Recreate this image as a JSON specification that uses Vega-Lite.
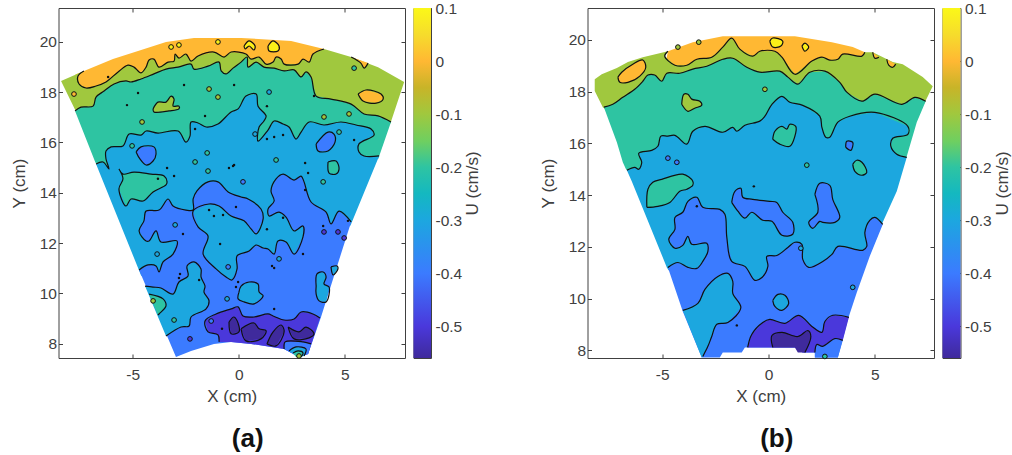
{"$schema":"https://vega.github.io/schema/vega-lite/v6.json",
"padding":{"left":9.5,"top":0,"right":0,"bottom":0},
"background":"white",
"config":{"view":{"stroke":"#404040","strokeWidth":1},"font":"Liberation Sans","axis":{"grid":false,"domain":false,"tickColor":"#404040","tickSize":-4,"labelColor":"#404040","titleColor":"#404040","labelFontSize":15.5,"titleFontSize":17,"titleFontWeight":"normal","labelPadding":6},"title":{"font":"Liberation Sans","fontSize":26,"fontWeight":"bold","color":"#111111"}},
"datasets":{
"a":[
{"r":"a0","u":0,"x":-7.30,"y":18.84},{"r":"a0","u":0,"x":-5.93,"y":19.31},{"r":"a0","u":0,"x":-4.75,"y":19.63},{"r":"a0","u":0,"x":-3.43,"y":19.99},{"r":"a0","u":0,"x":-2.11,"y":20.15},{"r":"a0","u":0,"x":0.11,"y":20.15},{"r":"a0","u":0,"x":2.47,"y":20.03},{"r":"a0","u":0,"x":4.02,"y":19.71},{"r":"a0","u":0,"x":3.9,"y":18.0},{"r":"a0","u":0,"x":-7.7,"y":18.0},{"r":"a0","u":0,"x":-7.7,"y":18.7},
{"r":"a1","u":-0.1,"c":1,"x":-7.30,"y":18.84},{"r":"a1","u":-0.1,"c":1,"x":-7.58,"y":18.64},{"r":"a1","u":-0.1,"c":1,"x":-7.53,"y":18.32},{"r":"a1","u":-0.1,"c":1,"x":-7.20,"y":18.16},{"r":"a1","u":-0.1,"c":1,"x":-6.73,"y":18.24},{"r":"a1","u":-0.1,"c":1,"x":-6.26,"y":18.40},{"r":"a1","u":-0.1,"c":1,"x":-5.69,"y":18.80},{"r":"a1","u":-0.1,"c":1,"x":-5.22,"y":19.07},{"r":"a1","u":-0.1,"c":1,"x":-4.94,"y":18.99},{"r":"a1","u":-0.1,"c":1,"x":-4.61,"y":18.76},{"r":"a1","u":-0.1,"c":1,"x":-4.37,"y":18.99},{"r":"a1","u":-0.1,"c":1,"x":-4.23,"y":19.27},{"r":"a1","u":-0.1,"c":1,"x":-4.00,"y":19.31},{"r":"a1","u":-0.1,"c":1,"x":-3.76,"y":18.99},{"r":"a1","u":-0.1,"c":1,"x":-3.33,"y":19.19},{"r":"a1","u":-0.1,"c":1,"x":-3.05,"y":19.23},{"r":"a1","u":-0.1,"c":1,"x":-3.00,"y":19.51},{"r":"a1","u":-0.1,"c":1,"x":-2.82,"y":19.35},{"r":"a1","u":-0.1,"c":1,"x":-2.49,"y":19.51},{"r":"a1","u":-0.1,"c":1,"x":-2.25,"y":19.23},{"r":"a1","u":-0.1,"c":1,"x":-1.92,"y":19.43},{"r":"a1","u":-0.1,"c":1,"x":-1.17,"y":19.59},{"r":"a1","u":-0.1,"c":1,"x":-0.69,"y":19.39},{"r":"a1","u":-0.1,"c":1,"x":-0.36,"y":19.59},{"r":"a1","u":-0.1,"c":1,"x":0.34,"y":19.51},{"r":"a1","u":-0.1,"c":1,"x":0.58,"y":19.31},{"r":"a1","u":-0.1,"c":1,"x":0.96,"y":19.39},{"r":"a1","u":-0.1,"c":1,"x":1.29,"y":19.11},{"r":"a1","u":-0.1,"c":1,"x":1.62,"y":19.19},{"r":"a1","u":-0.1,"c":1,"x":1.76,"y":19.39},{"r":"a1","u":-0.1,"c":1,"x":2.00,"y":19.31},{"r":"a1","u":-0.1,"c":1,"x":2.14,"y":19.11},{"r":"a1","u":-0.1,"c":1,"x":2.80,"y":19.11},{"r":"a1","u":-0.1,"c":1,"x":3.03,"y":19.31},{"r":"a1","u":-0.1,"c":1,"x":3.32,"y":19.19},{"r":"a1","u":-0.1,"c":1,"x":3.50,"y":19.51},{"r":"a1","u":-0.1,"c":1,"x":4.02,"y":19.71},{"r":"a1","u":-0.1,"x":5.30,"y":19.39},{"r":"a1","u":-0.1,"x":6.57,"y":18.99},{"r":"a1","u":-0.1,"x":7.80,"y":18.40},{"r":"a1","u":-0.1,"x":7.15,"y":16.75},{"r":"a1","u":-0.1,"x":-7.4,"y":16.75},{"r":"a1","u":-0.1,"x":-8.38,"y":18.44},
{"r":"a1b","u":0,"c":1,"x":5.30,"y":19.39},{"r":"a1b","u":0,"c":1,"x":5.76,"y":19.15},{"r":"a1b","u":0,"c":1,"x":5.91,"y":18.95},{"r":"a1b","u":0,"c":1,"x":6.10,"y":19.15},
{"r":"a2","u":-0.2,"c":1,"x":-7.72,"y":17.25},{"r":"a2","u":-0.2,"c":1,"x":-7.44,"y":17.40},{"r":"a2","u":-0.2,"c":1,"x":-6.87,"y":17.44},{"r":"a2","u":-0.2,"c":1,"x":-6.73,"y":17.80},{"r":"a2","u":-0.2,"c":1,"x":-6.35,"y":18.04},{"r":"a2","u":-0.2,"c":1,"x":-5.88,"y":18.32},{"r":"a2","u":-0.2,"c":1,"x":-5.32,"y":18.44},{"r":"a2","u":-0.2,"c":1,"x":-5.08,"y":18.40},{"r":"a2","u":-0.2,"c":1,"x":-4.61,"y":18.52},{"r":"a2","u":-0.2,"c":1,"x":-4.00,"y":18.72},{"r":"a2","u":-0.2,"c":1,"x":-3.43,"y":18.91},{"r":"a2","u":-0.2,"c":1,"x":-2.86,"y":18.99},{"r":"a2","u":-0.2,"c":1,"x":-2.25,"y":19.11},{"r":"a2","u":-0.2,"c":1,"x":-2.11,"y":18.91},{"r":"a2","u":-0.2,"c":1,"x":-1.45,"y":19.03},{"r":"a2","u":-0.2,"c":1,"x":-0.93,"y":19.19},{"r":"a2","u":-0.2,"c":1,"x":-0.83,"y":18.84},{"r":"a2","u":-0.2,"c":1,"x":-0.60,"y":18.72},{"r":"a2","u":-0.2,"c":1,"x":-0.27,"y":18.95},{"r":"a2","u":-0.2,"c":1,"x":0.11,"y":19.19},{"r":"a2","u":-0.2,"c":1,"x":0.39,"y":19.39},{"r":"a2","u":-0.2,"c":1,"x":0.44,"y":18.99},{"r":"a2","u":-0.2,"c":1,"x":0.82,"y":19.19},{"r":"a2","u":-0.2,"c":1,"x":1.19,"y":18.99},{"r":"a2","u":-0.2,"c":1,"x":1.67,"y":18.95},{"r":"a2","u":-0.2,"c":1,"x":2.14,"y":18.84},{"r":"a2","u":-0.2,"c":1,"x":2.61,"y":18.88},{"r":"a2","u":-0.2,"c":1,"x":2.94,"y":18.60},{"r":"a2","u":-0.2,"c":1,"x":3.17,"y":18.80},{"r":"a2","u":-0.2,"c":1,"x":3.41,"y":18.60},{"r":"a2","u":-0.2,"c":1,"x":3.65,"y":17.84},{"r":"a2","u":-0.2,"c":1,"x":4.35,"y":17.72},{"r":"a2","u":-0.2,"c":1,"x":5.30,"y":17.52},{"r":"a2","u":-0.2,"c":1,"x":5.91,"y":17.13},{"r":"a2","u":-0.2,"c":1,"x":6.57,"y":17.05},{"r":"a2","u":-0.2,"c":1,"x":7.18,"y":16.81},{"r":"a2","u":-0.2,"x":6.58,"y":15.35},{"r":"a2","u":-0.2,"x":-6.4,"y":14.9},{"r":"a2","u":-0.2,"x":-6.76,"y":15.2},
{"r":"a3","u":-0.3,"c":1,"x":-6.73,"y":15.14},{"r":"a3","u":-0.3,"c":1,"x":-6.40,"y":15.22},{"r":"a3","u":-0.3,"c":1,"x":-6.12,"y":14.94},{"r":"a3","u":-0.3,"c":1,"x":-6.26,"y":15.34},{"r":"a3","u":-0.3,"c":1,"x":-6.26,"y":15.66},{"r":"a3","u":-0.3,"c":1,"x":-6.02,"y":15.82},{"r":"a3","u":-0.3,"c":1,"x":-5.46,"y":15.86},{"r":"a3","u":-0.3,"c":1,"x":-5.17,"y":16.33},{"r":"a3","u":-0.3,"c":1,"x":-4.61,"y":16.29},{"r":"a3","u":-0.3,"c":1,"x":-4.37,"y":16.45},{"r":"a3","u":-0.3,"c":1,"x":-3.81,"y":16.37},{"r":"a3","u":-0.3,"c":1,"x":-2.86,"y":16.45},{"r":"a3","u":-0.3,"c":1,"x":-2.49,"y":16.01},{"r":"a3","u":-0.3,"c":1,"x":-2.30,"y":16.25},{"r":"a3","u":-0.3,"c":1,"x":-2.25,"y":16.81},{"r":"a3","u":-0.3,"c":1,"x":-1.92,"y":16.77},{"r":"a3","u":-0.3,"c":1,"x":-1.54,"y":16.61},{"r":"a3","u":-0.3,"c":1,"x":-0.98,"y":16.73},{"r":"a3","u":-0.3,"c":1,"x":-0.36,"y":17.21},{"r":"a3","u":-0.3,"c":1,"x":-0.03,"y":17.33},{"r":"a3","u":-0.3,"c":1,"x":0.34,"y":17.84},{"r":"a3","u":-0.3,"c":1,"x":0.82,"y":17.92},{"r":"a3","u":-0.3,"c":1,"x":0.91,"y":17.44},{"r":"a3","u":-0.3,"c":1,"x":1.29,"y":17.05},{"r":"a3","u":-0.3,"c":1,"x":1.19,"y":16.85},{"r":"a3","u":-0.3,"c":1,"x":0.96,"y":16.61},{"r":"a3","u":-0.3,"c":1,"x":0.91,"y":16.05},{"r":"a3","u":-0.3,"c":1,"x":1.38,"y":16.49},{"r":"a3","u":-0.3,"c":1,"x":1.67,"y":16.85},{"r":"a3","u":-0.3,"c":1,"x":2.09,"y":16.73},{"r":"a3","u":-0.3,"c":1,"x":2.37,"y":16.61},{"r":"a3","u":-0.3,"c":1,"x":2.70,"y":16.13},{"r":"a3","u":-0.3,"c":1,"x":2.94,"y":16.41},{"r":"a3","u":-0.3,"c":1,"x":3.32,"y":16.81},{"r":"a3","u":-0.3,"c":1,"x":4.02,"y":16.69},{"r":"a3","u":-0.3,"c":1,"x":4.82,"y":16.81},{"r":"a3","u":-0.3,"c":1,"x":5.53,"y":16.69},{"r":"a3","u":-0.3,"c":1,"x":6.24,"y":16.53},{"r":"a3","u":-0.3,"c":1,"x":6.38,"y":16.29},{"r":"a3","u":-0.3,"c":1,"x":5.67,"y":15.94},{"r":"a3","u":-0.3,"c":1,"x":5.67,"y":15.62},{"r":"a3","u":-0.3,"c":1,"x":5.91,"y":15.46},{"r":"a3","u":-0.3,"c":1,"x":6.62,"y":15.46},{"r":"a3","u":-0.3,"x":5.27,"y":12.7},{"r":"a3","u":-0.3,"x":1.0,"y":10.0},{"r":"a3","u":-0.3,"x":-4.6,"y":10.7},
{"r":"a4","u":-0.4,"c":1,"x":-4.70,"y":10.93},{"r":"a4","u":-0.4,"c":1,"x":-4.28,"y":11.13},{"r":"a4","u":-0.4,"c":1,"x":-3.90,"y":11.09},{"r":"a4","u":-0.4,"c":1,"x":-3.76,"y":10.85},{"r":"a4","u":-0.4,"c":1,"x":-3.57,"y":11.25},{"r":"a4","u":-0.4,"c":1,"x":-3.10,"y":11.56},{"r":"a4","u":-0.4,"c":1,"x":-2.91,"y":12.08},{"r":"a4","u":-0.4,"c":1,"x":-3.67,"y":12.04},{"r":"a4","u":-0.4,"c":1,"x":-3.90,"y":12.48},{"r":"a4","u":-0.4,"c":1,"x":-4.23,"y":12.08},{"r":"a4","u":-0.4,"c":1,"x":-4.37,"y":12.08},{"r":"a4","u":-0.4,"c":1,"x":-4.70,"y":12.48},{"r":"a4","u":-0.4,"c":1,"x":-4.47,"y":12.88},{"r":"a4","u":-0.4,"c":1,"x":-4.37,"y":13.27},{"r":"a4","u":-0.4,"c":1,"x":-3.76,"y":13.31},{"r":"a4","u":-0.4,"c":1,"x":-3.33,"y":13.75},{"r":"a4","u":-0.4,"c":1,"x":-3.10,"y":13.47},{"r":"a4","u":-0.4,"c":1,"x":-2.49,"y":13.31},{"r":"a4","u":-0.4,"c":1,"x":-2.15,"y":13.31},{"r":"a4","u":-0.4,"c":1,"x":-2.15,"y":13.75},{"r":"a4","u":-0.4,"c":1,"x":-1.97,"y":14.07},{"r":"a4","u":-0.4,"c":1,"x":-1.45,"y":14.43},{"r":"a4","u":-0.4,"c":1,"x":-0.98,"y":14.43},{"r":"a4","u":-0.4,"c":1,"x":-0.50,"y":14.03},{"r":"a4","u":-0.4,"c":1,"x":0.11,"y":13.83},{"r":"a4","u":-0.4,"c":1,"x":0.44,"y":13.75},{"r":"a4","u":-0.4,"c":1,"x":1.05,"y":13.35},{"r":"a4","u":-0.4,"c":1,"x":1.15,"y":12.96},{"r":"a4","u":-0.4,"c":1,"x":0.82,"y":12.36},{"r":"a4","u":-0.4,"c":1,"x":0.58,"y":12.56},{"r":"a4","u":-0.4,"c":1,"x":0.25,"y":12.88},{"r":"a4","u":-0.4,"c":1,"x":-0.36,"y":13.07},{"r":"a4","u":-0.4,"c":1,"x":-0.93,"y":13.47},{"r":"a4","u":-0.4,"c":1,"x":-1.40,"y":13.55},{"r":"a4","u":-0.4,"c":1,"x":-2.15,"y":13.27},{"r":"a4","u":-0.4,"c":1,"x":-1.92,"y":12.64},{"r":"a4","u":-0.4,"c":1,"x":-1.45,"y":12.28},{"r":"a4","u":-0.4,"c":1,"x":-1.68,"y":11.56},{"r":"a4","u":-0.4,"c":1,"x":-1.07,"y":10.97},{"r":"a4","u":-0.4,"c":1,"x":-0.60,"y":10.65},{"r":"a4","u":-0.4,"c":1,"x":-0.32,"y":10.53},{"r":"a4","u":-0.4,"c":1,"x":-0.08,"y":10.97},{"r":"a4","u":-0.4,"c":1,"x":-0.08,"y":11.49},{"r":"a4","u":-0.4,"c":1,"x":0.49,"y":11.68},{"r":"a4","u":-0.4,"c":1,"x":0.82,"y":11.92},{"r":"a4","u":-0.4,"c":1,"x":1.15,"y":11.80},{"r":"a4","u":-0.4,"c":1,"x":1.38,"y":11.76},{"r":"a4","u":-0.4,"c":1,"x":1.67,"y":11.56},{"r":"a4","u":-0.4,"c":1,"x":1.85,"y":12.08},{"r":"a4","u":-0.4,"c":1,"x":2.23,"y":12.04},{"r":"a4","u":-0.4,"c":1,"x":2.61,"y":11.56},{"r":"a4","u":-0.4,"c":1,"x":3.03,"y":12.24},{"r":"a4","u":-0.4,"c":1,"x":3.03,"y":12.68},{"r":"a4","u":-0.4,"c":1,"x":2.61,"y":12.48},{"r":"a4","u":-0.4,"c":1,"x":2.23,"y":13.03},{"r":"a4","u":-0.4,"c":1,"x":1.90,"y":13.23},{"r":"a4","u":-0.4,"c":1,"x":1.43,"y":13.07},{"r":"a4","u":-0.4,"c":1,"x":1.38,"y":13.35},{"r":"a4","u":-0.4,"c":1,"x":1.67,"y":13.67},{"r":"a4","u":-0.4,"c":1,"x":1.52,"y":14.07},{"r":"a4","u":-0.4,"c":1,"x":1.76,"y":14.55},{"r":"a4","u":-0.4,"c":1,"x":2.09,"y":14.74},{"r":"a4","u":-0.4,"c":1,"x":2.61,"y":14.50},{"r":"a4","u":-0.4,"c":1,"x":2.94,"y":14.66},{"r":"a4","u":-0.4,"c":1,"x":3.08,"y":14.43},{"r":"a4","u":-0.4,"c":1,"x":3.41,"y":13.63},{"r":"a4","u":-0.4,"c":1,"x":4.12,"y":13.23},{"r":"a4","u":-0.4,"c":1,"x":4.35,"y":12.76},{"r":"a4","u":-0.4,"c":1,"x":4.73,"y":13.27},{"r":"a4","u":-0.4,"c":1,"x":5.30,"y":12.84},{"r":"a4","u":-0.4,"x":3.88,"y":9.06},{"r":"a4","u":-0.4,"x":3.27,"y":7.59},{"r":"a4","u":-0.4,"x":2.84,"y":7.47},{"r":"a4","u":-0.4,"x":2.14,"y":7.79},{"r":"a4","u":-0.4,"x":0.58,"y":7.99},{"r":"a4","u":-0.4,"x":-0.36,"y":8.07},{"r":"a4","u":-0.4,"x":-1.17,"y":7.99},{"r":"a4","u":-0.4,"x":-2.25,"y":7.71},{"r":"a4","u":-0.4,"x":-2.96,"y":7.47},
{"r":"a5","u":-0.3,"c":1,"x":-4.42,"y":10.29},{"r":"a5","u":-0.3,"c":1,"x":-4.04,"y":10.25},{"r":"a5","u":-0.3,"c":1,"x":-3.67,"y":10.21},{"r":"a5","u":-0.3,"c":1,"x":-3.10,"y":9.97},{"r":"a5","u":-0.3,"c":1,"x":-2.82,"y":10.45},{"r":"a5","u":-0.3,"c":1,"x":-2.39,"y":10.69},{"r":"a5","u":-0.3,"c":1,"x":-2.44,"y":11.09},{"r":"a5","u":-0.3,"c":1,"x":-2.11,"y":11.25},{"r":"a5","u":-0.3,"c":1,"x":-1.78,"y":10.97},{"r":"a5","u":-0.3,"c":1,"x":-1.78,"y":10.65},{"r":"a5","u":-0.3,"c":1,"x":-1.59,"y":10.29},{"r":"a5","u":-0.3,"c":1,"x":-1.64,"y":10.05},{"r":"a5","u":-0.3,"c":1,"x":-1.40,"y":9.70},{"r":"a5","u":-0.3,"c":1,"x":-1.54,"y":9.38},{"r":"a5","u":-0.3,"c":1,"x":-2.25,"y":9.06},{"r":"a5","u":-0.3,"c":1,"x":-2.34,"y":8.70},{"r":"a5","u":-0.3,"c":1,"x":-2.72,"y":8.66},{"r":"a5","u":-0.3,"c":1,"x":-3.43,"y":8.30},
{"r":"a6","u":-0.2,"c":1,"x":-4.23,"y":9.97},{"r":"a6","u":-0.2,"c":1,"x":-3.57,"y":9.78},{"r":"a6","u":-0.2,"c":1,"x":-3.43,"y":9.50},{"r":"a6","u":-0.2,"c":1,"x":-3.76,"y":9.18},{"r":"a6","u":-0.2,"c":1,"x":-3.81,"y":9.14},
{"r":"a7","u":-0.5,"c":1,"x":-0.93,"y":8.07},{"r":"a7","u":-0.5,"c":1,"x":-0.98,"y":8.35},{"r":"a7","u":-0.5,"c":1,"x":-1.45,"y":8.47},{"r":"a7","u":-0.5,"c":1,"x":-1.59,"y":8.90},{"r":"a7","u":-0.5,"c":1,"x":-1.07,"y":9.18},{"r":"a7","u":-0.5,"c":1,"x":-0.36,"y":9.38},{"r":"a7","u":-0.5,"c":1,"x":-0.03,"y":9.46},{"r":"a7","u":-0.5,"c":1,"x":0.20,"y":9.10},{"r":"a7","u":-0.5,"c":1,"x":0.72,"y":9.06},{"r":"a7","u":-0.5,"c":1,"x":1.38,"y":9.18},{"r":"a7","u":-0.5,"c":1,"x":1.62,"y":9.10},{"r":"a7","u":-0.5,"c":1,"x":2.14,"y":8.94},{"r":"a7","u":-0.5,"c":1,"x":2.61,"y":8.98},{"r":"a7","u":-0.5,"c":1,"x":2.94,"y":9.26},{"r":"a7","u":-0.5,"c":1,"x":3.50,"y":9.18},{"r":"a7","u":-0.5,"c":1,"x":3.83,"y":9.02},{"r":"a7","u":-0.5,"x":3.27,"y":7.59},{"r":"a7","u":-0.5,"x":2.84,"y":7.47},{"r":"a7","u":-0.5,"x":2.14,"y":7.79},{"r":"a7","u":-0.5,"x":0.58,"y":7.99},{"r":"a7","u":-0.5,"x":-0.36,"y":8.07},
{"r":"a8","u":-0.4,"c":1,"x":2.14,"y":7.79},{"r":"a8","u":-0.4,"c":1,"x":2.19,"y":8.07},{"r":"a8","u":-0.4,"c":1,"x":3.03,"y":8.07},{"r":"a8","u":-0.4,"c":1,"x":3.41,"y":7.99},{"r":"a8","u":-0.4,"x":3.27,"y":7.59},{"r":"a8","u":-0.4,"x":2.84,"y":7.47},
{"r":"a9","u":-0.3,"c":1,"x":2.37,"y":7.71},{"r":"a9","u":-0.3,"c":1,"x":2.70,"y":7.87},{"r":"a9","u":-0.3,"c":1,"x":3.17,"y":7.79},{"r":"a9","u":-0.3,"c":1,"x":3.08,"y":7.51},{"r":"a9","u":-0.3,"x":2.84,"y":7.47},
{"r":"a10","u":-0.2,"c":1,"x":2.56,"y":7.63},{"r":"a10","u":-0.2,"c":1,"x":2.80,"y":7.71},{"r":"a10","u":-0.2,"c":1,"x":3.03,"y":7.63},{"r":"a10","u":-0.2,"c":1,"x":2.94,"y":7.47},{"r":"a10","u":-0.2,"x":2.70,"y":7.47},
{"r":"a11","u":-0.3,"c":1,"x":0.01,"y":10.05},{"r":"a11","u":-0.3,"c":1,"x":0.11,"y":10.29},{"r":"a11","u":-0.3,"c":1,"x":0.49,"y":10.45},{"r":"a11","u":-0.3,"c":1,"x":0.91,"y":10.37},{"r":"a11","u":-0.3,"c":1,"x":0.96,"y":10.05},{"r":"a11","u":-0.3,"c":1,"x":1.15,"y":9.90},{"r":"a11","u":-0.3,"c":1,"x":0.72,"y":9.58},{"r":"a11","u":-0.3,"c":1,"x":0.25,"y":9.66},{"r":"a11","u":-0.3,"c":1,"x":-0.03,"y":9.78},{"r":"a11","u":-0.3,"c":1,"x":0.01,"y":10.05},
{"r":"a12","u":-0.3,"c":1,"x":3.65,"y":10.29},{"r":"a12","u":-0.3,"c":1,"x":3.69,"y":10.77},{"r":"a12","u":-0.3,"c":1,"x":3.98,"y":10.85},{"r":"a12","u":-0.3,"c":1,"x":4.12,"y":10.65},{"r":"a12","u":-0.3,"c":1,"x":4.02,"y":10.37},{"r":"a12","u":-0.3,"c":1,"x":4.26,"y":10.25},{"r":"a12","u":-0.3,"c":1,"x":4.12,"y":9.66},{"r":"a12","u":-0.3,"c":1,"x":3.79,"y":9.70},{"r":"a12","u":-0.3,"c":1,"x":3.65,"y":9.97},{"r":"a12","u":-0.3,"c":1,"x":3.65,"y":10.29},
{"r":"a13","u":-0.3,"c":1,"x":4.35,"y":11.05},{"r":"a13","u":-0.3,"c":1,"x":4.64,"y":11.09},{"r":"a13","u":-0.3,"c":1,"x":4.68,"y":10.97},{"r":"a13","u":-0.3,"c":1,"x":4.45,"y":10.73},{"r":"a13","u":-0.3,"c":1,"x":4.35,"y":11.05},
{"r":"a14","u":-0.2,"c":1,"x":-5.65,"y":14.94},{"r":"a14","u":-0.2,"c":1,"x":-5.46,"y":14.74},{"r":"a14","u":-0.2,"c":1,"x":-4.94,"y":14.82},{"r":"a14","u":-0.2,"c":1,"x":-4.14,"y":14.74},{"r":"a14","u":-0.2,"c":1,"x":-3.52,"y":14.66},{"r":"a14","u":-0.2,"c":1,"x":-3.38,"y":14.43},{"r":"a14","u":-0.2,"c":1,"x":-3.43,"y":14.31},{"r":"a14","u":-0.2,"c":1,"x":-4.04,"y":14.03},{"r":"a14","u":-0.2,"c":1,"x":-4.51,"y":13.67},{"r":"a14","u":-0.2,"c":1,"x":-5.08,"y":13.75},{"r":"a14","u":-0.2,"c":1,"x":-5.32,"y":13.47},{"r":"a14","u":-0.2,"c":1,"x":-5.65,"y":14.15},{"r":"a14","u":-0.2,"c":1,"x":-5.46,"y":14.55},{"r":"a14","u":-0.2,"c":1,"x":-5.65,"y":14.94},
{"r":"a15","u":-0.1,"c":1,"x":-4.04,"y":17.33},{"r":"a15","u":-0.1,"c":1,"x":-3.81,"y":17.60},{"r":"a15","u":-0.1,"c":1,"x":-3.43,"y":17.60},{"r":"a15","u":-0.1,"c":1,"x":-3.19,"y":17.84},{"r":"a15","u":-0.1,"c":1,"x":-3.05,"y":17.72},{"r":"a15","u":-0.1,"c":1,"x":-3.10,"y":17.44},{"r":"a15","u":-0.1,"c":1,"x":-2.82,"y":17.44},{"r":"a15","u":-0.1,"c":1,"x":-2.82,"y":17.33},{"r":"a15","u":-0.1,"c":1,"x":-3.29,"y":17.25},{"r":"a15","u":-0.1,"c":1,"x":-4.00,"y":17.21},{"r":"a15","u":-0.1,"c":1,"x":-4.04,"y":17.33},
{"r":"a16","u":0,"c":1,"x":5.63,"y":17.92},{"r":"a16","u":0,"c":1,"x":6.00,"y":18.08},{"r":"a16","u":0,"c":1,"x":6.71,"y":17.92},{"r":"a16","u":0,"c":1,"x":6.81,"y":17.72},{"r":"a16","u":0,"c":1,"x":6.48,"y":17.56},{"r":"a16","u":0,"c":1,"x":5.86,"y":17.64},{"r":"a16","u":0,"c":1,"x":5.63,"y":17.92},
{"r":"a17","u":0.1,"c":1,"x":1.38,"y":19.83},{"r":"a17","u":0.1,"c":1,"x":1.62,"y":20.03},{"r":"a17","u":0.1,"c":1,"x":1.90,"y":19.83},{"r":"a17","u":0.1,"c":1,"x":1.85,"y":19.63},{"r":"a17","u":0.1,"c":1,"x":1.43,"y":19.63},{"r":"a17","u":0.1,"c":1,"x":1.38,"y":19.83},
{"r":"a18","u":0.1,"c":1,"x":0.25,"y":19.83},{"r":"a18","u":0.1,"c":1,"x":0.49,"y":20.03},{"r":"a18","u":0.1,"c":1,"x":0.77,"y":19.83},{"r":"a18","u":0.1,"c":1,"x":0.72,"y":19.67},{"r":"a18","u":0.1,"c":1,"x":0.49,"y":19.83},{"r":"a18","u":0.1,"c":1,"x":0.30,"y":19.71},{"r":"a18","u":0.1,"c":1,"x":0.25,"y":19.83},
{"r":"a19","u":-0.2,"c":1,"x":4.21,"y":15.22},{"r":"a19","u":-0.2,"c":1,"x":4.59,"y":15.26},{"r":"a19","u":-0.2,"c":1,"x":4.73,"y":14.94},{"r":"a19","u":-0.2,"c":1,"x":4.59,"y":14.74},{"r":"a19","u":-0.2,"c":1,"x":4.26,"y":14.78},{"r":"a19","u":-0.2,"c":1,"x":4.21,"y":15.22},
{"r":"a20","u":-0.4,"c":1,"x":-4.84,"y":15.62},{"r":"a20","u":-0.4,"c":1,"x":-4.61,"y":15.82},{"r":"a20","u":-0.4,"c":1,"x":-4.00,"y":15.82},{"r":"a20","u":-0.4,"c":1,"x":-3.90,"y":15.54},{"r":"a20","u":-0.4,"c":1,"x":-4.04,"y":15.26},{"r":"a20","u":-0.4,"c":1,"x":-4.37,"y":15.10},{"r":"a20","u":-0.4,"c":1,"x":-4.66,"y":15.34},{"r":"a20","u":-0.4,"c":1,"x":-4.84,"y":15.62},
{"r":"a21","u":-0.4,"c":1,"x":3.65,"y":15.94},{"r":"a21","u":-0.4,"c":1,"x":4.21,"y":16.41},{"r":"a21","u":-0.4,"c":1,"x":4.49,"y":16.33},{"r":"a21","u":-0.4,"c":1,"x":4.54,"y":16.01},{"r":"a21","u":-0.4,"c":1,"x":4.21,"y":15.66},{"r":"a21","u":-0.4,"c":1,"x":3.74,"y":15.66},{"r":"a21","u":-0.4,"c":1,"x":3.65,"y":15.94},
{"r":"a22","u":-0.55,"c":1,"x":-0.46,"y":8.86},{"r":"a22","u":-0.55,"c":1,"x":-0.22,"y":9.06},{"r":"a22","u":-0.55,"c":1,"x":0.01,"y":8.70},{"r":"a22","u":-0.55,"c":1,"x":0.01,"y":8.47},{"r":"a22","u":-0.55,"c":1,"x":-0.36,"y":8.39},{"r":"a22","u":-0.55,"c":1,"x":-0.46,"y":8.86},
{"r":"a23","u":-0.55,"c":1,"x":0.11,"y":8.59},{"r":"a23","u":-0.55,"c":1,"x":0.72,"y":8.82},{"r":"a23","u":-0.55,"c":1,"x":0.96,"y":8.59},{"r":"a23","u":-0.55,"c":1,"x":1.29,"y":8.51},{"r":"a23","u":-0.55,"c":1,"x":1.05,"y":8.19},{"r":"a23","u":-0.55,"c":1,"x":0.34,"y":8.11},{"r":"a23","u":-0.55,"c":1,"x":0.11,"y":8.59},
{"r":"a24","u":-0.55,"c":1,"x":1.33,"y":7.99},{"r":"a24","u":-0.55,"c":1,"x":1.62,"y":8.47},{"r":"a24","u":-0.55,"c":1,"x":2.00,"y":8.74},{"r":"a24","u":-0.55,"c":1,"x":2.14,"y":8.47},{"r":"a24","u":-0.55,"c":1,"x":1.76,"y":7.91},{"r":"a24","u":-0.55,"c":1,"x":1.33,"y":7.99},
{"r":"a25","u":-0.55,"c":1,"x":2.33,"y":8.66},{"r":"a25","u":-0.55,"c":1,"x":2.84,"y":8.47},{"r":"a25","u":-0.55,"c":1,"x":3.17,"y":8.66},{"r":"a25","u":-0.55,"c":1,"x":3.55,"y":8.39},{"r":"a25","u":-0.55,"c":1,"x":3.32,"y":8.23},{"r":"a25","u":-0.55,"c":1,"x":2.61,"y":8.19},{"r":"a25","u":-0.55,"c":1,"x":2.33,"y":8.66}
],
"ai":[
{"u":0.1,"x":-2.82,"y":19.87},{"u":0.1,"x":-3.19,"y":19.79},{"u":0.1,"x":-0.98,"y":19.99},{"u":0,"x":-7.77,"y":17.92},{"u":-0.1,"x":-1.40,"y":18.12},{"u":-0.1,"x":-0.98,"y":17.80},{"u":-0.1,"x":-4.56,"y":16.81},{"u":-0.3,"x":1.43,"y":18.00},{"u":-0.1,"x":4.02,"y":17.01},{"u":-0.1,"x":5.20,"y":17.13},{"u":-0.2,"x":4.73,"y":16.41},{"u":-0.2,"x":5.44,"y":18.95},{"u":-0.2,"x":-1.49,"y":15.58},{"u":-0.2,"x":-2.06,"y":15.22},{"u":-0.2,"x":-1.45,"y":14.86},{"u":-0.2,"x":-5.03,"y":15.86},{"u":-0.2,"x":1.76,"y":15.30},{"u":-0.3,"x":0.77,"y":16.33},{"u":-0.1,"x":-4.04,"y":9.70},{"u":-0.3,"x":-3.00,"y":12.72},{"u":-0.3,"x":-3.85,"y":11.56},{"u":-0.4,"x":-0.50,"y":11.05},{"u":-0.3,"x":1.90,"y":11.37},{"u":-0.3,"x":-0.55,"y":9.78},{"u":-0.2,"x":-3.05,"y":8.94},{"u":-0.4,"x":-1.30,"y":8.90},{"u":-0.4,"x":0.20,"y":14.43},{"u":-0.2,"x":3.98,"y":14.43},{"u":-0.5,"x":4.97,"y":12.20},{"u":-0.5,"x":4.68,"y":12.44},{"u":-0.5,"x":4.02,"y":12.44},{"u":-0.5,"x":-2.30,"y":8.19},{"u":-0.1,"x":2.84,"y":7.51}
],
"as":[
{"x":-2.58,"y":18.28},{"x":-4.75,"y":17.96},{"x":-5.27,"y":17.48},{"x":-1.59,"y":17.05},{"x":-0.22,"y":18.28},{"x":-2.06,"y":16.53},{"x":-3.38,"y":14.98},{"x":-3.05,"y":14.66},{"x":-0.46,"y":14.98},{"x":-0.27,"y":15.06},{"x":-6.16,"y":18.60},{"x":1.33,"y":17.44},{"x":1.67,"y":16.21},{"x":1.33,"y":16.13},{"x":2.09,"y":16.29},{"x":3.55,"y":17.84},{"x":5.44,"y":16.09},{"x":-0.22,"y":15.10},{"x":3.13,"y":15.18},{"x":3.27,"y":14.78},{"x":-2.63,"y":12.36},{"x":-1.40,"y":13.31},{"x":-1.17,"y":13.07},{"x":-0.74,"y":13.11},{"x":-0.13,"y":13.43},{"x":-0.88,"y":11.96},{"x":-2.82,"y":10.61},{"x":-2.77,"y":10.77},{"x":-1.87,"y":10.53},{"x":-0.03,"y":10.45},{"x":-0.13,"y":10.25},{"x":-0.79,"y":8.59},{"x":-3.81,"y":14.55},{"x":1.33,"y":12.55},{"x":2.09,"y":13.00},{"x":3.13,"y":14.11},{"x":3.98,"y":12.68},{"x":3.03,"y":11.56},{"x":1.57,"y":11.09},{"x":1.67,"y":11.01},{"x":5.15,"y":12.88},{"x":1.67,"y":9.38}
],
"b":[
{"r":"b0","u":0,"x":-4.73,"y":19.56},{"r":"b0","u":0,"x":-3.56,"y":19.91},{"r":"b0","u":0,"x":-2.15,"y":20.14},{"r":"b0","u":0,"x":1.24,"y":20.14},{"r":"b0","u":0,"x":2.98,"y":19.91},{"r":"b0","u":0,"x":3.96,"y":19.72},{"r":"b0","u":0,"x":4.53,"y":19.52},{"r":"b0","u":0,"x":4.5,"y":18.4},{"r":"b0","u":0,"x":-5,"y":18.4},
{"r":"b1","u":-0.1,"c":1,"x":-4.73,"y":19.56},{"r":"b1","u":-0.1,"c":1,"x":-4.88,"y":19.37},{"r":"b1","u":-0.1,"c":1,"x":-4.40,"y":19.02},{"r":"b1","u":-0.1,"c":1,"x":-3.84,"y":19.02},{"r":"b1","u":-0.1,"c":1,"x":-3.37,"y":19.25},{"r":"b1","u":-0.1,"c":1,"x":-2.67,"y":19.33},{"r":"b1","u":-0.1,"c":1,"x":-2.15,"y":19.72},{"r":"b1","u":-0.1,"c":1,"x":-1.73,"y":20.07},{"r":"b1","u":-0.1,"c":1,"x":-1.35,"y":19.64},{"r":"b1","u":-0.1,"c":1,"x":-0.74,"y":19.37},{"r":"b1","u":-0.1,"c":1,"x":-0.41,"y":19.56},{"r":"b1","u":-0.1,"c":1,"x":0.30,"y":19.56},{"r":"b1","u":-0.1,"c":1,"x":0.63,"y":19.33},{"r":"b1","u":-0.1,"c":1,"x":1.24,"y":18.67},{"r":"b1","u":-0.1,"c":1,"x":2.04,"y":19.18},{"r":"b1","u":-0.1,"c":1,"x":2.51,"y":19.33},{"r":"b1","u":-0.1,"c":1,"x":2.88,"y":19.22},{"r":"b1","u":-0.1,"c":1,"x":3.26,"y":19.25},{"r":"b1","u":-0.1,"c":1,"x":3.49,"y":19.45},{"r":"b1","u":-0.1,"c":1,"x":4.39,"y":19.37},{"r":"b1","u":-0.1,"c":1,"x":4.53,"y":19.52},{"r":"b1","u":-0.1,"x":4.90,"y":19.52},{"r":"b1","u":-0.1,"x":5.84,"y":19.14},{"r":"b1","u":-0.1,"x":6.31,"y":19.06},{"r":"b1","u":-0.1,"x":7.25,"y":18.56},{"r":"b1","u":-0.1,"x":7.72,"y":18.21},{"r":"b1","u":-0.1,"x":7.49,"y":17.82},{"r":"b1","u":-0.1,"x":7.3,"y":17.5},{"r":"b1","u":-0.1,"x":-7.5,"y":17.2},{"r":"b1","u":-0.1,"x":-7.79,"y":17.40},{"r":"b1","u":-0.1,"x":-8.17,"y":18.02},{"r":"b1","u":-0.1,"x":-8.17,"y":18.48},{"r":"b1","u":-0.1,"x":-7.84,"y":18.67},{"r":"b1","u":-0.1,"x":-7.13,"y":18.91},{"r":"b1","u":-0.1,"x":-6.61,"y":19.14},{"r":"b1","u":-0.1,"x":-5.91,"y":19.33},
{"r":"b1b","u":0,"c":1,"x":5.56,"y":19.25},{"r":"b1b","u":0,"c":1,"x":5.65,"y":19.02},{"r":"b1b","u":0,"c":1,"x":5.84,"y":18.94},{"r":"b1b","u":0,"c":1,"x":5.98,"y":19.06},
{"r":"b1c","u":0,"c":1,"x":4.90,"y":19.52},{"r":"b1c","u":0,"c":1,"x":5.00,"y":19.29},{"r":"b1c","u":0,"c":1,"x":5.19,"y":19.33},
{"r":"b2","u":-0.2,"c":1,"x":-7.74,"y":17.40},{"r":"b2","u":-0.2,"c":1,"x":-7.32,"y":17.51},{"r":"b2","u":-0.2,"c":1,"x":-6.85,"y":17.78},{"r":"b2","u":-0.2,"c":1,"x":-6.29,"y":18.09},{"r":"b2","u":-0.2,"c":1,"x":-5.91,"y":18.40},{"r":"b2","u":-0.2,"c":1,"x":-5.67,"y":18.64},{"r":"b2","u":-0.2,"c":1,"x":-5.35,"y":18.64},{"r":"b2","u":-0.2,"c":1,"x":-5.02,"y":18.40},{"r":"b2","u":-0.2,"c":1,"x":-4.78,"y":18.71},{"r":"b2","u":-0.2,"c":1,"x":-4.17,"y":18.71},{"r":"b2","u":-0.2,"c":1,"x":-3.56,"y":18.87},{"r":"b2","u":-0.2,"c":1,"x":-2.90,"y":18.98},{"r":"b2","u":-0.2,"c":1,"x":-2.15,"y":19.25},{"r":"b2","u":-0.2,"c":1,"x":-1.68,"y":19.29},{"r":"b2","u":-0.2,"c":1,"x":-1.02,"y":18.94},{"r":"b2","u":-0.2,"c":1,"x":-0.41,"y":18.75},{"r":"b2","u":-0.2,"c":1,"x":0.53,"y":18.79},{"r":"b2","u":-0.2,"c":1,"x":0.91,"y":18.56},{"r":"b2","u":-0.2,"c":1,"x":1.38,"y":18.29},{"r":"b2","u":-0.2,"c":1,"x":1.94,"y":18.75},{"r":"b2","u":-0.2,"c":1,"x":2.65,"y":18.79},{"r":"b2","u":-0.2,"c":1,"x":3.35,"y":18.36},{"r":"b2","u":-0.2,"c":1,"x":3.68,"y":17.98},{"r":"b2","u":-0.2,"c":1,"x":4.39,"y":17.63},{"r":"b2","u":-0.2,"c":1,"x":5.00,"y":17.90},{"r":"b2","u":-0.2,"c":1,"x":6.27,"y":17.51},{"r":"b2","u":-0.2,"c":1,"x":6.88,"y":17.78},{"r":"b2","u":-0.2,"c":1,"x":7.39,"y":17.63},{"r":"b2","u":-0.2,"x":6.97,"y":16.82},{"r":"b2","u":-0.2,"x":6.50,"y":15.50},{"r":"b2","u":-0.2,"x":6.4,"y":15.3},{"r":"b2","u":-0.2,"x":-6.4,"y":14.8},{"r":"b2","u":-0.2,"x":-6.7,"y":15.0},{"r":"b2","u":-0.2,"x":-6.85,"y":15.27},{"r":"b2","u":-0.2,"x":-7.13,"y":16.04},
{"r":"b3","u":-0.3,"c":1,"x":-6.66,"y":14.96},{"r":"b3","u":-0.3,"c":1,"x":-6.29,"y":15.07},{"r":"b3","u":-0.3,"c":1,"x":-6.10,"y":15.00},{"r":"b3","u":-0.3,"c":1,"x":-5.96,"y":15.27},{"r":"b3","u":-0.3,"c":1,"x":-6.10,"y":15.62},{"r":"b3","u":-0.3,"c":1,"x":-5.49,"y":15.73},{"r":"b3","u":-0.3,"c":1,"x":-5.20,"y":15.89},{"r":"b3","u":-0.3,"c":1,"x":-5.06,"y":16.28},{"r":"b3","u":-0.3,"c":1,"x":-4.73,"y":16.28},{"r":"b3","u":-0.3,"c":1,"x":-4.40,"y":16.31},{"r":"b3","u":-0.3,"c":1,"x":-3.84,"y":15.97},{"r":"b3","u":-0.3,"c":1,"x":-3.56,"y":16.47},{"r":"b3","u":-0.3,"c":1,"x":-2.99,"y":16.66},{"r":"b3","u":-0.3,"c":1,"x":-2.15,"y":16.43},{"r":"b3","u":-0.3,"c":1,"x":-1.68,"y":16.62},{"r":"b3","u":-0.3,"c":1,"x":-1.49,"y":16.47},{"r":"b3","u":-0.3,"c":1,"x":-1.11,"y":16.70},{"r":"b3","u":-0.3,"c":1,"x":-0.41,"y":16.86},{"r":"b3","u":-0.3,"c":1,"x":-0.17,"y":17.05},{"r":"b3","u":-0.3,"c":1,"x":0.16,"y":17.51},{"r":"b3","u":-0.3,"c":1,"x":0.63,"y":17.82},{"r":"b3","u":-0.3,"c":1,"x":1.00,"y":17.59},{"r":"b3","u":-0.3,"c":1,"x":1.61,"y":17.47},{"r":"b3","u":-0.3,"c":1,"x":2.41,"y":17.05},{"r":"b3","u":-0.3,"c":1,"x":2.51,"y":16.62},{"r":"b3","u":-0.3,"c":1,"x":2.69,"y":16.24},{"r":"b3","u":-0.3,"c":1,"x":2.88,"y":16.24},{"r":"b3","u":-0.3,"c":1,"x":3.26,"y":16.82},{"r":"b3","u":-0.3,"c":1,"x":3.82,"y":17.05},{"r":"b3","u":-0.3,"c":1,"x":5.00,"y":17.20},{"r":"b3","u":-0.3,"c":1,"x":6.55,"y":16.66},{"r":"b3","u":-0.3,"c":1,"x":6.55,"y":16.35},{"r":"b3","u":-0.3,"c":1,"x":5.84,"y":16.20},{"r":"b3","u":-0.3,"c":1,"x":5.75,"y":15.89},{"r":"b3","u":-0.3,"c":1,"x":6.03,"y":15.58},{"r":"b3","u":-0.3,"c":1,"x":6.50,"y":15.46},{"r":"b3","u":-0.3,"x":6.03,"y":14.15},{"r":"b3","u":-0.3,"x":5.37,"y":12.95},{"r":"b3","u":-0.3,"x":4.76,"y":11.7},{"r":"b3","u":-0.3,"x":1.0,"y":10.4},{"r":"b3","u":-0.3,"x":-4.7,"y":11.1},{"r":"b3","u":-0.3,"x":-4.78,"y":11.21},{"r":"b3","u":-0.3,"x":-6.43,"y":14.54},
{"r":"b4","u":-0.4,"c":1,"x":-4.73,"y":11.21},{"r":"b4","u":-0.4,"c":1,"x":-4.26,"y":11.40},{"r":"b4","u":-0.4,"c":1,"x":-3.79,"y":11.21},{"r":"b4","u":-0.4,"c":1,"x":-3.37,"y":11.17},{"r":"b4","u":-0.4,"c":1,"x":-3.09,"y":11.44},{"r":"b4","u":-0.4,"c":1,"x":-2.85,"y":11.83},{"r":"b4","u":-0.4,"c":1,"x":-2.90,"y":12.14},{"r":"b4","u":-0.4,"c":1,"x":-3.61,"y":12.10},{"r":"b4","u":-0.4,"c":1,"x":-3.79,"y":12.41},{"r":"b4","u":-0.4,"c":1,"x":-4.03,"y":12.06},{"r":"b4","u":-0.4,"c":1,"x":-4.40,"y":11.95},{"r":"b4","u":-0.4,"c":1,"x":-4.69,"y":12.29},{"r":"b4","u":-0.4,"c":1,"x":-4.40,"y":12.68},{"r":"b4","u":-0.4,"c":1,"x":-4.40,"y":13.14},{"r":"b4","u":-0.4,"c":1,"x":-4.03,"y":13.34},{"r":"b4","u":-0.4,"c":1,"x":-3.79,"y":13.76},{"r":"b4","u":-0.4,"c":1,"x":-3.37,"y":13.92},{"r":"b4","u":-0.4,"c":1,"x":-3.09,"y":13.53},{"r":"b4","u":-0.4,"c":1,"x":-2.29,"y":13.45},{"r":"b4","u":-0.4,"c":1,"x":-2.05,"y":13.26},{"r":"b4","u":-0.4,"c":1,"x":-1.96,"y":12.37},{"r":"b4","u":-0.4,"c":1,"x":-1.73,"y":11.44},{"r":"b4","u":-0.4,"c":1,"x":-1.11,"y":11.25},{"r":"b4","u":-0.4,"c":1,"x":-0.64,"y":10.71},{"r":"b4","u":-0.4,"c":1,"x":-0.31,"y":10.82},{"r":"b4","u":-0.4,"c":1,"x":-0.03,"y":11.25},{"r":"b4","u":-0.4,"c":1,"x":-0.08,"y":11.64},{"r":"b4","u":-0.4,"c":1,"x":0.39,"y":11.67},{"r":"b4","u":-0.4,"c":1,"x":0.91,"y":11.98},{"r":"b4","u":-0.4,"c":1,"x":1.24,"y":12.18},{"r":"b4","u":-0.4,"c":1,"x":1.57,"y":12.10},{"r":"b4","u":-0.4,"c":1,"x":1.61,"y":11.52},{"r":"b4","u":-0.4,"c":1,"x":1.89,"y":11.21},{"r":"b4","u":-0.4,"c":1,"x":2.55,"y":11.44},{"r":"b4","u":-0.4,"c":1,"x":2.98,"y":11.71},{"r":"b4","u":-0.4,"c":1,"x":3.26,"y":12.02},{"r":"b4","u":-0.4,"c":1,"x":4.43,"y":11.87},{"r":"b4","u":-0.4,"c":1,"x":4.62,"y":12.02},{"r":"b4","u":-0.4,"c":1,"x":4.53,"y":12.56},{"r":"b4","u":-0.4,"c":1,"x":4.76,"y":13.03},{"r":"b4","u":-0.4,"c":1,"x":5.00,"y":13.14},{"r":"b4","u":-0.4,"c":1,"x":5.37,"y":12.87},{"r":"b4","u":-0.4,"x":4.76,"y":11.64},{"r":"b4","u":-0.4,"x":4.15,"y":10.24},{"r":"b4","u":-0.4,"x":3.73,"y":9.20},{"r":"b4","u":-0.4,"x":3.49,"y":8.43},{"r":"b4","u":-0.4,"x":3.26,"y":7.73},{"r":"b4","u":-0.4,"x":2.18,"y":7.73},{"r":"b4","u":-0.4,"x":2.18,"y":7.92},{"r":"b4","u":-0.4,"x":1.61,"y":7.92},{"r":"b4","u":-0.4,"x":1.24,"y":8.12},{"r":"b4","u":-0.4,"x":-1.11,"y":8.12},{"r":"b4","u":-0.4,"x":-1.26,"y":7.92},{"r":"b4","u":-0.4,"x":-2.15,"y":7.92},{"r":"b4","u":-0.4,"x":-2.29,"y":7.73},{"r":"b4","u":-0.4,"x":-3.14,"y":7.73},{"r":"b4","u":-0.4,"x":-4.03,"y":9.51},
{"r":"b5","u":-0.3,"c":1,"x":-4.03,"y":9.55},{"r":"b5","u":-0.3,"c":1,"x":-3.32,"y":9.82},{"r":"b5","u":-0.3,"c":1,"x":-2.99,"y":10.36},{"r":"b5","u":-0.3,"c":1,"x":-2.38,"y":10.86},{"r":"b5","u":-0.3,"c":1,"x":-1.91,"y":10.98},{"r":"b5","u":-0.3,"c":1,"x":-1.68,"y":10.67},{"r":"b5","u":-0.3,"c":1,"x":-1.68,"y":10.21},{"r":"b5","u":-0.3,"c":1,"x":-1.30,"y":9.66},{"r":"b5","u":-0.3,"c":1,"x":-1.91,"y":9.08},{"r":"b5","u":-0.3,"c":1,"x":-2.43,"y":9.01},{"r":"b5","u":-0.3,"c":1,"x":-2.67,"y":8.54},{"r":"b5","u":-0.3,"c":1,"x":-2.85,"y":8.16},{"r":"b5","u":-0.3,"c":1,"x":-3.09,"y":7.77},{"r":"b5","u":-0.3,"x":-3.14,"y":7.73},
{"r":"b6","u":-0.5,"c":1,"x":-0.98,"y":8.12},{"r":"b6","u":-0.5,"c":1,"x":-0.79,"y":8.62},{"r":"b6","u":-0.5,"c":1,"x":-0.27,"y":9.08},{"r":"b6","u":-0.5,"c":1,"x":0.06,"y":9.20},{"r":"b6","u":-0.5,"c":1,"x":0.77,"y":9.05},{"r":"b6","u":-0.5,"c":1,"x":1.42,"y":9.36},{"r":"b6","u":-0.5,"c":1,"x":2.04,"y":8.93},{"r":"b6","u":-0.5,"c":1,"x":2.51,"y":8.70},{"r":"b6","u":-0.5,"c":1,"x":2.65,"y":9.12},{"r":"b6","u":-0.5,"c":1,"x":3.02,"y":9.36},{"r":"b6","u":-0.5,"c":1,"x":3.78,"y":9.28},{"r":"b6","u":-0.5,"x":3.49,"y":8.39},{"r":"b6","u":-0.5,"x":3.12,"y":8.46},{"r":"b6","u":-0.5,"x":2.55,"y":8.16},{"r":"b6","u":-0.5,"x":2.27,"y":8.23},{"r":"b6","u":-0.5,"x":2.18,"y":7.92},{"r":"b6","u":-0.5,"x":1.61,"y":7.92},{"r":"b6","u":-0.5,"x":1.24,"y":8.12},
{"r":"b7","u":-0.4,"c":1,"x":2.18,"y":7.92},{"r":"b7","u":-0.4,"c":1,"x":2.27,"y":8.23},{"r":"b7","u":-0.4,"c":1,"x":2.55,"y":8.16},{"r":"b7","u":-0.4,"c":1,"x":3.12,"y":8.46},{"r":"b7","u":-0.4,"c":1,"x":3.49,"y":8.39},{"r":"b7","u":-0.4,"x":3.26,"y":7.73},{"r":"b7","u":-0.4,"x":2.18,"y":7.73},
{"r":"b8","u":-0.55,"c":1,"x":0.20,"y":8.12},{"r":"b8","u":-0.55,"c":1,"x":0.16,"y":8.58},{"r":"b8","u":-0.55,"c":1,"x":0.63,"y":8.70},{"r":"b8","u":-0.55,"c":1,"x":1.38,"y":8.54},{"r":"b8","u":-0.55,"c":1,"x":1.85,"y":8.77},{"r":"b8","u":-0.55,"c":1,"x":1.99,"y":8.54},{"r":"b8","u":-0.55,"c":1,"x":1.71,"y":7.92},{"r":"b8","u":-0.55,"x":1.38,"y":7.92},{"r":"b8","u":-0.55,"x":1.24,"y":8.12}
],
"b2i":[
{"r":"c0","u":-0.4,"x":-1.73,"y":13.72},{"r":"c0","u":-0.4,"x":-1.58,"y":14.15},{"r":"c0","u":-0.4,"x":-1.30,"y":14.27},{"r":"c0","u":-0.4,"x":-1.21,"y":13.92},{"r":"c0","u":-0.4,"x":-0.74,"y":13.84},{"r":"c0","u":-0.4,"x":0.06,"y":13.76},{"r":"c0","u":-0.4,"x":0.39,"y":13.72},{"r":"c0","u":-0.4,"x":0.67,"y":13.34},{"r":"c0","u":-0.4,"x":1.14,"y":12.95},{"r":"c0","u":-0.4,"x":1.14,"y":12.49},{"r":"c0","u":-0.4,"x":0.63,"y":12.45},{"r":"c0","u":-0.4,"x":0.16,"y":12.99},{"r":"c0","u":-0.4,"x":-0.27,"y":13.03},{"r":"c0","u":-0.4,"x":-0.79,"y":13.34},{"r":"c0","u":-0.4,"x":-1.11,"y":13.11},{"r":"c0","u":-0.4,"x":-1.44,"y":13.38},{"r":"c0","u":-0.4,"x":-1.73,"y":13.72},
{"r":"c1","u":-0.4,"x":2.18,"y":14.03},{"r":"c1","u":-0.4,"x":2.41,"y":14.46},{"r":"c1","u":-0.4,"x":2.88,"y":14.38},{"r":"c1","u":-0.4,"x":3.02,"y":13.84},{"r":"c1","u":-0.4,"x":3.35,"y":13.14},{"r":"c1","u":-0.4,"x":3.12,"y":12.95},{"r":"c1","u":-0.4,"x":2.55,"y":12.95},{"r":"c1","u":-0.4,"x":2.41,"y":12.99},{"r":"c1","u":-0.4,"x":2.08,"y":12.72},{"r":"c1","u":-0.4,"x":1.89,"y":12.95},{"r":"c1","u":-0.4,"x":2.32,"y":13.34},{"r":"c1","u":-0.4,"x":2.18,"y":14.03},
{"r":"c2","u":-0.3,"x":0.20,"y":9.93},{"r":"c2","u":-0.3,"x":0.44,"y":10.17},{"r":"c2","u":-0.3,"x":0.77,"y":10.13},{"r":"c2","u":-0.3,"x":0.95,"y":9.82},{"r":"c2","u":-0.3,"x":0.63,"y":9.55},{"r":"c2","u":-0.3,"x":0.30,"y":9.70},{"r":"c2","u":-0.3,"x":0.20,"y":9.93},
{"r":"c3","u":0,"x":-7.08,"y":18.56},{"r":"c3","u":0,"x":-6.90,"y":18.75},{"r":"c3","u":0,"x":-6.38,"y":19.06},{"r":"c3","u":0,"x":-5.91,"y":19.22},{"r":"c3","u":0,"x":-5.77,"y":18.94},{"r":"c3","u":0,"x":-6.05,"y":18.60},{"r":"c3","u":0,"x":-6.61,"y":18.36},{"r":"c3","u":0,"x":-6.99,"y":18.36},{"r":"c3","u":0,"x":-7.08,"y":18.56},
{"r":"c4","u":0.1,"x":0.06,"y":19.95},{"r":"c4","u":0.1,"x":0.20,"y":20.07},{"r":"c4","u":0.1,"x":0.67,"y":19.95},{"r":"c4","u":0.1,"x":0.58,"y":19.76},{"r":"c4","u":0.1,"x":0.20,"y":19.72},{"r":"c4","u":0.1,"x":0.06,"y":19.95},
{"r":"c5","u":0.1,"x":1.57,"y":19.76},{"r":"c5","u":0.1,"x":1.71,"y":19.87},{"r":"c5","u":0.1,"x":1.89,"y":19.72},{"r":"c5","u":0.1,"x":1.71,"y":19.56},{"r":"c5","u":0.1,"x":1.57,"y":19.76},
{"r":"c6","u":-0.2,"x":-5.72,"y":13.53},{"r":"c6","u":-0.2,"x":-5.67,"y":14.23},{"r":"c6","u":-0.2,"x":-5.44,"y":14.50},{"r":"c6","u":-0.2,"x":-5.02,"y":14.61},{"r":"c6","u":-0.2,"x":-4.03,"y":14.81},{"r":"c6","u":-0.2,"x":-3.56,"y":14.54},{"r":"c6","u":-0.2,"x":-3.56,"y":14.38},{"r":"c6","u":-0.2,"x":-3.84,"y":14.23},{"r":"c6","u":-0.2,"x":-4.17,"y":14.15},{"r":"c6","u":-0.2,"x":-4.64,"y":13.72},{"r":"c6","u":-0.2,"x":-5.20,"y":13.57},{"r":"c6","u":-0.2,"x":-5.72,"y":13.53},
{"r":"c7","u":-0.1,"x":-4.08,"y":17.51},{"r":"c7","u":-0.1,"x":-3.98,"y":17.90},{"r":"c7","u":-0.1,"x":-3.79,"y":17.90},{"r":"c7","u":-0.1,"x":-3.61,"y":17.71},{"r":"c7","u":-0.1,"x":-3.23,"y":17.63},{"r":"c7","u":-0.1,"x":-3.14,"y":17.47},{"r":"c7","u":-0.1,"x":-3.47,"y":17.36},{"r":"c7","u":-0.1,"x":-3.79,"y":17.24},{"r":"c7","u":-0.1,"x":-4.08,"y":17.51},
{"r":"c8","u":-0.2,"x":0.20,"y":16.16},{"r":"c8","u":-0.2,"x":0.30,"y":16.47},{"r":"c8","u":-0.2,"x":0.63,"y":16.66},{"r":"c8","u":-0.2,"x":0.86,"y":16.55},{"r":"c8","u":-0.2,"x":1.00,"y":16.74},{"r":"c8","u":-0.2,"x":1.28,"y":16.66},{"r":"c8","u":-0.2,"x":1.24,"y":16.28},{"r":"c8","u":-0.2,"x":1.00,"y":15.89},{"r":"c8","u":-0.2,"x":0.53,"y":15.97},{"r":"c8","u":-0.2,"x":0.20,"y":16.16},
{"r":"c9","u":-0.2,"x":3.96,"y":15.19},{"r":"c9","u":-0.2,"x":4.15,"y":15.35},{"r":"c9","u":-0.2,"x":4.39,"y":15.27},{"r":"c9","u":-0.2,"x":4.62,"y":14.88},{"r":"c9","u":-0.2,"x":4.39,"y":14.77},{"r":"c9","u":-0.2,"x":4.06,"y":14.92},{"r":"c9","u":-0.2,"x":3.96,"y":15.19},
{"r":"c10","u":-0.4,"x":3.63,"y":15.85},{"r":"c10","u":-0.4,"x":3.68,"y":16.08},{"r":"c10","u":-0.4,"x":3.96,"y":16.04},{"r":"c10","u":-0.4,"x":3.87,"y":15.73},{"r":"c10","u":-0.4,"x":3.63,"y":15.85}
],
"bi":[
{"u":-0.1,"x":-4.26,"y":19.72},{"u":-0.1,"x":-3.28,"y":19.91},{"u":-0.4,"x":-4.31,"y":15.27},{"u":-0.4,"x":-4.73,"y":15.43},{"u":-0.2,"x":1.80,"y":15.16},{"u":-0.1,"x":-0.17,"y":18.09},{"u":-0.2,"x":2.65,"y":7.77},{"u":-0.3,"x":3.96,"y":10.44},{"u":-0.3,"x":1.52,"y":11.95}
],
"bs":[{"x":-3.37,"y":13.57},{"x":-1.49,"y":8.97},{"x":-0.69,"y":14.34}],
"cb":[{"lo":-0.56,"hi":0.1}],
"gap":[{"lo":0}]
},
"hconcat":[
{"width":346.5,"height":350,"title":{"text":"(a)","orient":"bottom","anchor":"middle","dx":16,"offset":21},"layer":[
{"data":{"name":"a"},"mark":{"type":"line","strokeWidth":0,"order":null},"encoding":{"x":{"field":"x","type":"quantitative","scale":{"domain":[-8.5,7.84],"nice":false,"zero":false},"axis":{"values":[-5,0,5],"title":"X (cm)","labelPadding":13,"titlePadding":6,"labelExpr":"replace(datum.label,'−','-')"}},"y":{"field":"y","type":"quantitative","scale":{"domain":[7.43,21.34],"nice":false,"zero":false},"axis":{"values":[8,10,12,14,16,18,20],"title":"Y (cm)","titlePadding":11}},"detail":{"field":"r"},"fill":{"field":"u","type":"quantitative","legend":null,"scale":{"domain":[-0.55,-0.5,-0.4,-0.3,-0.2,-0.1,0,0.1],"range":["#3f2a9c","#4a38db","#3b7bff","#1ca7df","#2ec4a2","#a0c83e","#ffb833","#fbf018"]}}}},
{"data":{"name":"a"},"transform":[{"filter":"datum.c"}],"mark":{"type":"line","stroke":"#111111","strokeWidth":1.2,"order":null,"interpolate":"catmull-rom"},"encoding":{"x":{"field":"x","type":"quantitative","axis":{"orient":"top","values":[-5,0,5],"labels":false,"title":null}},"y":{"field":"y","type":"quantitative","axis":{"orient":"right","values":[8,10,12,14,16,18,20],"labels":false,"title":null}},"detail":{"field":"r"}}},
{"data":{"name":"ai"},"mark":{"type":"circle","stroke":"#111111","strokeWidth":1,"size":22,"opacity":1},"encoding":{"x":{"field":"x","type":"quantitative","axis":null},"y":{"field":"y","type":"quantitative","axis":null},"fill":{"field":"u","type":"quantitative","legend":null,"scale":{"domain":[-0.55,-0.5,-0.4,-0.3,-0.2,-0.1,0,0.1],"range":["#3f2a9c","#4a38db","#3b7bff","#1ca7df","#2ec4a2","#a0c83e","#ffb833","#fbf018"]}}}},
{"data":{"name":"as"},"mark":{"type":"circle","color":"#111111","size":6,"opacity":1},"encoding":{"x":{"field":"x","type":"quantitative","axis":null},"y":{"field":"y","type":"quantitative","axis":null}}}
],"resolve":{"axis":{"x":"independent","y":"independent"}}},
{"width":17.5,"height":350,"data":{"name":"cb"},"mark":{"type":"rect","color":{"gradient":"linear","x1":0,"y1":1,"x2":0,"y2":0,"stops":[{"offset":0,"color":"#3f2a9c"},{"offset":0.09,"color":"#4a38db"},{"offset":0.242,"color":"#3b7bff"},{"offset":0.394,"color":"#1ca7df"},{"offset":0.47,"color":"#14b8c0"},{"offset":0.545,"color":"#2ec4a2"},{"offset":0.62,"color":"#6fcf60"},{"offset":0.697,"color":"#a0c83e"},{"offset":0.773,"color":"#c8b428"},{"offset":0.848,"color":"#ffb833"},{"offset":0.924,"color":"#f6dc2c"},{"offset":1,"color":"#fbf818"}]}},"encoding":{"y":{"field":"lo","type":"quantitative","scale":{"domain":[-0.56,0.1],"nice":false,"zero":false},"axis":{"orient":"right","values":[-0.5,-0.4,-0.3,-0.2,-0.1,0,0.1],"format":"~g","labelPadding":8,"labelExpr":"replace(datum.label,'−','-')","title":"U (cm/s)","titleAngle":270,"titlePadding":20}},"y2":{"field":"hi"}}},
{"width":139.9,"height":350,"view":{"stroke":null},"data":{"name":"gap"},"mark":{"type":"rect","opacity":0},"encoding":{}},
{"width":346.5,"height":350,"title":{"text":"(b)","orient":"bottom","anchor":"middle","dx":16,"offset":21},"layer":[
{"data":{"name":"b"},"mark":{"type":"line","strokeWidth":0,"order":null},"encoding":{"x":{"field":"x","type":"quantitative","scale":{"domain":[-8.51,7.78],"nice":false,"zero":false},"axis":{"values":[-5,0,5],"title":"X (cm)","labelPadding":13,"titlePadding":6,"labelExpr":"replace(datum.label,'−','-')"}},"y":{"field":"y","type":"quantitative","scale":{"domain":[7.71,21.23],"nice":false,"zero":false},"axis":{"values":[8,10,12,14,16,18,20],"title":"Y (cm)","titlePadding":11}},"detail":{"field":"r"},"fill":{"field":"u","type":"quantitative","legend":null,"scale":{"domain":[-0.55,-0.5,-0.4,-0.3,-0.2,-0.1,0,0.1],"range":["#3f2a9c","#4a38db","#3b7bff","#1ca7df","#2ec4a2","#a0c83e","#ffb833","#fbf018"]}}}},
{"data":{"name":"b"},"transform":[{"filter":"datum.c"}],"mark":{"type":"line","stroke":"#111111","strokeWidth":1.2,"order":null,"interpolate":"catmull-rom"},"encoding":{"x":{"field":"x","type":"quantitative","axis":{"orient":"top","values":[-5,0,5],"labels":false,"title":null}},"y":{"field":"y","type":"quantitative","axis":{"orient":"right","values":[8,10,12,14,16,18,20],"labels":false,"title":null}},"detail":{"field":"r"}}},
{"data":{"name":"b2i"},"mark":{"type":"line","stroke":"#111111","strokeWidth":1.2,"order":null,"interpolate":"catmull-rom"},"encoding":{"x":{"field":"x","type":"quantitative","axis":null},"y":{"field":"y","type":"quantitative","axis":null},"detail":{"field":"r"},"fill":{"field":"u","type":"quantitative","legend":null,"scale":{"domain":[-0.55,-0.5,-0.4,-0.3,-0.2,-0.1,0,0.1],"range":["#3f2a9c","#4a38db","#3b7bff","#1ca7df","#2ec4a2","#a0c83e","#ffb833","#fbf018"]}}}},
{"data":{"name":"bi"},"mark":{"type":"circle","stroke":"#111111","strokeWidth":1,"size":22,"opacity":1},"encoding":{"x":{"field":"x","type":"quantitative","axis":null},"y":{"field":"y","type":"quantitative","axis":null},"fill":{"field":"u","type":"quantitative","legend":null,"scale":{"domain":[-0.55,-0.5,-0.4,-0.3,-0.2,-0.1,0,0.1],"range":["#3f2a9c","#4a38db","#3b7bff","#1ca7df","#2ec4a2","#a0c83e","#ffb833","#fbf018"]}}}},
{"data":{"name":"bs"},"mark":{"type":"circle","color":"#111111","size":6,"opacity":1},"encoding":{"x":{"field":"x","type":"quantitative","axis":null},"y":{"field":"y","type":"quantitative","axis":null}}}
],"resolve":{"axis":{"x":"independent","y":"independent"}}},
{"width":18,"height":350,"data":{"name":"cb"},"mark":{"type":"rect","color":{"gradient":"linear","x1":0,"y1":1,"x2":0,"y2":0,"stops":[{"offset":0,"color":"#3f2a9c"},{"offset":0.09,"color":"#4a38db"},{"offset":0.242,"color":"#3b7bff"},{"offset":0.394,"color":"#1ca7df"},{"offset":0.47,"color":"#14b8c0"},{"offset":0.545,"color":"#2ec4a2"},{"offset":0.62,"color":"#6fcf60"},{"offset":0.697,"color":"#a0c83e"},{"offset":0.773,"color":"#c8b428"},{"offset":0.848,"color":"#ffb833"},{"offset":0.924,"color":"#f6dc2c"},{"offset":1,"color":"#fbf818"}]}},"encoding":{"y":{"field":"lo","type":"quantitative","scale":{"domain":[-0.56,0.1],"nice":false,"zero":false},"axis":{"orient":"right","values":[-0.5,-0.4,-0.3,-0.2,-0.1,0,0.1],"format":"~g","labelPadding":8,"labelExpr":"replace(datum.label,'−','-')","title":"U (cm/s)","titleAngle":270,"titlePadding":20}},"y2":{"field":"hi"}}}
],"spacing":8,"bounds":"flush"}
